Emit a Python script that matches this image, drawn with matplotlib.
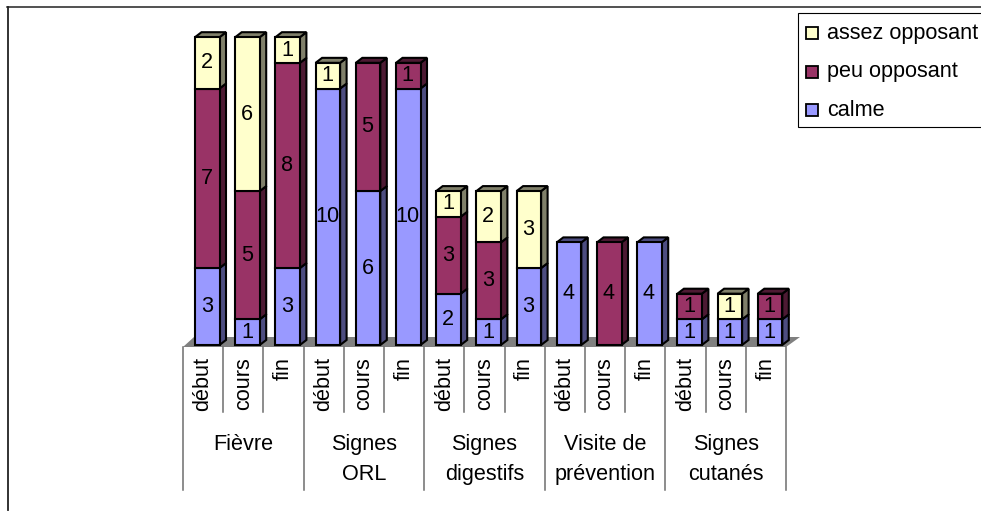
import matplotlib
matplotlib.use("Agg")
import matplotlib.pyplot as plt
from matplotlib.lines import Line2D
from matplotlib.patches import Rectangle

plt.rcParams['font.family'] = ['Liberation Sans', 'DejaVu Sans']

groups = ["Fièvre", "Signes\nORL", "Signes\ndigestifs", "Visite de\nprévention", "Signes\ncutanés"]
phases = ["début", "cours", "fin"]

calme = [3, 1, 3, 10, 6, 10, 2, 1, 3, 4, 0, 4, 1, 1, 1]
peu_opposant = [7, 5, 8, 0, 5, 1, 3, 3, 0, 0, 4, 0, 1, 0, 1]
assez_opposant = [2, 6, 1, 1, 0, 0, 1, 2, 3, 0, 0, 0, 0, 1, 0]

series = [
    ("calme", calme, "#9999FF", "#4D4D80"),
    ("peu opposant", peu_opposant, "#993366", "#4D1A33"),
    ("assez opposant", assez_opposant, "#FFFFCC", "#80806A"),
]

W, H = 981, 511
fig = plt.figure(figsize=(W / 100, H / 100), dpi=100)
ax = fig.add_axes([183 / W, (H - 345) / H, 603 / W, 337 / H])
unit = 25.65
ax.set_xlim(0, 15)
ax.set_ylim(0, 337 / unit)
ax.axis("off")

# pixel sizes turned into data units
px = 15 / 603
py = 1 / unit
depth_x = 6.5 * px
depth_y = 5 * py
bar_w = 24.5 * px
fs = 15.6
edge = 1.5


def below(y_px):
    # y position for a pixel row under the baseline
    return (345 - y_px) * py


# floor
ax.fill([0, 15, 15 + 14 * px, 11 * px], [below(347), below(347), below(337), below(337)],
        facecolor="#808080", edgecolor="none", clip_on=False, zorder=1)

# frame round the chart: only the top and left lines are in the picture
fig.add_artist(Line2D([7 / W, 1], [1 - 7.5 / H, 1 - 7.5 / H], color="#222222", linewidth=1.1))
fig.add_artist(Line2D([7.5 / W, 7.5 / W], [1 - 7.5 / H, 1 - 510 / H], color="#222222", linewidth=1.3))

# bars
for i in range(15):
    left = i + 12 * px
    right = left + bar_w
    base = 0
    top_color = None
    for name, values, color, dark in series:
        v = values[i]
        if v == 0:
            continue
        ax.bar(left, v, width=bar_w, bottom=base, align="edge", color=color, edgecolor="black",
               linewidth=edge, zorder=3, clip_on=False)
        ax.fill([right, right + depth_x, right + depth_x, right],
                [base, base + depth_y, base + v + depth_y, base + v],
                facecolor=dark, edgecolor="black", linewidth=edge, zorder=2.5, clip_on=False)
        ax.text(left + bar_w / 2 - 0.5 * px, base + v / 2, str(v), ha="center", va="center",
                fontsize=fs, color="black", zorder=5, clip_on=False)
        base += v
        top_color = dark
    ax.fill([left, right, right + depth_x, left + depth_x],
            [base, base, base + depth_y, base + depth_y],
            facecolor=top_color, edgecolor="black", linewidth=edge, zorder=2.5, clip_on=False)

# category axis: tick lines and the two label levels
for i in range(16):
    end = 490 if i % 3 == 0 else 412
    ax.plot([i, i], [below(347), below(end)], color="#6E6E6E", linewidth=1.1, clip_on=False, zorder=1)
for i in range(15):
    ax.text(i + 0.5, below(357), phases[i % 3], rotation=90, ha="center", va="top",
            fontsize=fs, color="black", clip_on=False)
for g, label in enumerate(groups):
    first, _, second = label.partition("\n")
    ax.text(3 * g + 1.5, below(444), first, ha="center", va="center", fontsize=fs,
            color="black", clip_on=False)
    if second:
        ax.text(3 * g + 1.5, below(474), second, ha="center", va="center", fontsize=fs,
                color="black", clip_on=False)

# legend, cut by the right edge like the original
fig.add_artist(Rectangle((798 / W, 1 - 127 / H), 200 / W, 114 / H, transform=fig.transFigure,
                         facecolor="white", edgecolor="black", linewidth=0.8, zorder=6))
for (name, values, color, dark), y in zip(series, [110, 72, 33]):
    fig.add_artist(Rectangle((806 / W, 1 - (y + 6) / H), 12 / W, 12 / H, transform=fig.transFigure,
                             facecolor=color, edgecolor="black", linewidth=1.3, zorder=7))
    fig.text(827 / W, 1 - y / H, name, ha="left", va="center", fontsize=fs, color="black", zorder=7)

fig.savefig("out.png", dpi=100)
